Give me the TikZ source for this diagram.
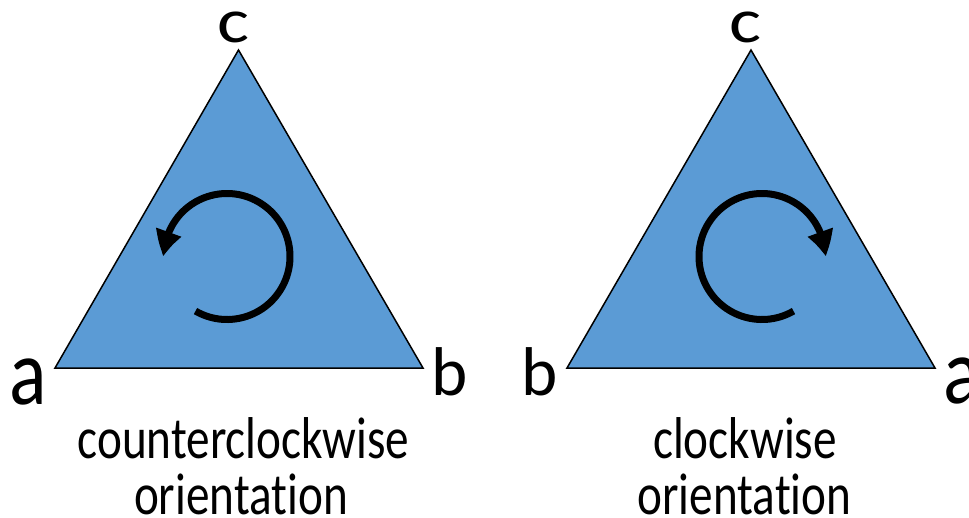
\documentclass[tikz,border=0pt]{standalone}
\usepackage{fontspec}
\setmainfont{Carlito}
% condensed / widened cuts of the same face for the labels
\newfontfamily\capfont[FakeStretch=0.80,Ligatures=NoCommon]{Carlito}
\newfontfamily\afont[FakeStretch=0.83]{Carlito}
\newfontfamily\bfont[FakeStretch=1.0]{Carlito}
\newfontfamily\cfont[FakeStretch=1.2]{Carlito}
\usetikzlibrary{arrows.meta,bending}

\definecolor{triblue}{HTML}{5B9BD5}

\tikzset{
  tri/.style={fill=triblue, draw=black, line width=1.5pt, line join=miter},
  turn/.style={line width=7pt, -{Triangle[length=25pt,width=25pt,bend]}},
  lbla/.style={anchor=base, inner sep=0pt, text height=0.5em, text depth=0pt,
    font=\afont\fontsize{94}{94}\selectfont},
  lblb/.style={anchor=base, inner sep=0pt, text height=0.72em, text depth=0pt,
    font=\bfont\fontsize{69}{69}\selectfont},
  lblc/.style={anchor=base, inner sep=0pt, text height=0.5em, text depth=0pt,
    font=\cfont\fontsize{63}{63}\selectfont},
  caption/.style={anchor=base, inner sep=0pt, font=\capfont\fontsize{59}{59}\selectfont},
}

\begin{document}
\begin{tikzpicture}[x=1pt, y=-1pt]
  \useasboundingbox (0,0) rectangle (969,517);

  % counterclockwise triangle (y axis points down, so angles run clockwise)
  \coordinate (La) at (55,368);
  \coordinate (Lb) at (423,368);
  \coordinate (Lc) at (238.5,50);
  \fill[tri] (La) -- (Lb) -- (Lc) -- cycle;
  \coordinate (Lo) at (227,256.5);
  \draw[turn] ([shift={(120:63)}]Lo) arc[start angle=120, end angle=-180, radius=63];

  \node[lbla] (la) at (28,404) {a};
  \node[lblb] (lb) at (450,395) {b};
  \node[lblc] (lc) at (233.5,42.5) {c};

  % clockwise triangle
  \coordinate (Rb) at (567,368);
  \coordinate (Ra) at (935,368);
  \coordinate (Rc) at (751,50);
  \fill[tri] (Rb) -- (Ra) -- (Rc) -- cycle;
  \coordinate (Ro) at (762,256.5);
  \draw[turn] ([shift={(60:63)}]Ro) arc[start angle=60, end angle=360, radius=63];

  \node[lbla] (ra) at (962,403) {a};
  \node[lblb] (rb) at (540,395) {b};
  \node[lblc] (rc) at (745.5,42.5) {c};

  % captions
  \node[caption] (ccw1) at (243.5,458) {counterclockwise};
  \node[caption] (ccw2) at (241,514) {orientation};
  \node[caption] (cw1) at (745,458) {clockwise};
  \node[caption] (cw2) at (744.5,514) {orientation};
\end{tikzpicture}
\end{document}
